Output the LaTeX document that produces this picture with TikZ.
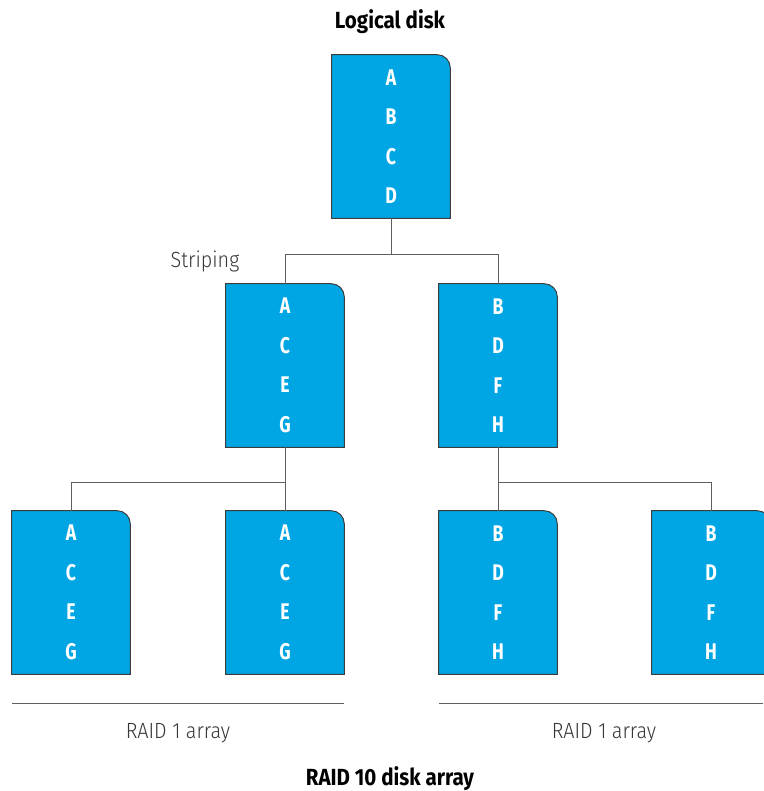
\documentclass[tikz,border=0pt]{standalone}
\usepackage{fontspec}
\setmainfont{Fira Sans}
\newfontfamily\diskfont[FakeStretch=0.78]{Fira Sans}
\newfontfamily\capfont[FakeStretch=0.88]{Fira Sans}
\newfontfamily\lightfont[FakeStretch=0.9]{Fira Sans Light}
\usetikzlibrary{backgrounds,calc}
\definecolor{diskblue}{RGB}{0,166,227}
\definecolor{diskedge}{RGB}{60,60,60}
\definecolor{linegray}{RGB}{95,95,95}
\definecolor{textgray}{RGB}{55,55,55}

\begin{document}
\begin{tikzpicture}[x=0.75pt,y=0.75pt,yscale=-1,xscale=1,
  disk/.style={minimum width=88.5pt,minimum height=122.25pt,inner sep=0pt,align=center,text=white,font=\diskfont\bfseries\fontsize{17}{29.6}\selectfont},
  diskbox/.style={fill=diskblue,draw=diskedge,line width=0.75pt},
  link/.style={draw=linegray,line width=0.75pt},
  caption/.style={text=textgray,inner sep=0pt,font=\lightfont\fontsize{16.5}{19}\selectfont},
  title/.style={text=black,inner sep=0pt,font=\capfont\bfseries\fontsize{17.5}{20}\selectfont}]
\useasboundingbox (0,0) rectangle (763,791);
\clip (0,0) rectangle (763,791);

% Disks
\node[disk] (top) at (391,136.5) {A\\B\\C\\D};
\node[disk] (ml) at (285,365.5) {A\\C\\E\\G};
\node[disk] (mr) at (498,365.5) {B\\D\\F\\H};
\node[disk] (b1) at (71,592.5) {A\\C\\E\\G};
\node[disk] (b2) at (285,592.5) {A\\C\\E\\G};
\node[disk] (b3) at (498,592.5) {B\\D\\F\\H};
\node[disk] (b4) at (711,592.5) {B\\D\\F\\H};

% rounded top right corner
\begin{scope}[on background layer]
\foreach \d in {top,ml,mr,b1,b2,b3,b4}
  \draw[diskbox] (\d.south west) -- (\d.north west) -- ($(\d.north east)+(-13,0)$) .. controls ($(\d.north east)+(-5.8,0)$) and ($(\d.north east)+(0,5.8)$) .. ($(\d.north east)+(0,13)$) -- (\d.south east) -- cycle;
\end{scope}

% Connectors
\draw[link] (top.south) -- ++(0,36) -| (ml.north);
\draw[link] (top.south) -- ++(0,36) -| (mr.north);
\draw[link] (ml.south) -- (b2.north);
\draw[link] (ml.south) -- ++(0,35) -| (b1.north);
\draw[link] (mr.south) -- (b3.north);
\draw[link] (mr.south) -- ++(0,35) -| (b4.north);

% Rules
\coordinate (rla) at (12,703);
\coordinate (rlb) at (344,703);
\coordinate (rra) at (439,703);
\coordinate (rrb) at (763,703);
\draw[link] (rla) -- (rlb);
\draw[link] (rra) -- (rrb);

% Text Node
\node[title] (logical) at (390,22) {Logical disk};
\node[caption] (striping) at (205,261) {Striping};
\node[caption] (raidl) at (178,733.5) {RAID 1 array};
\node[caption] (raidr) at (604,733.5) {RAID 1 array};
\node[title] (raid10) at (390,779) {RAID 10 disk array};

\end{tikzpicture}
\end{document}
